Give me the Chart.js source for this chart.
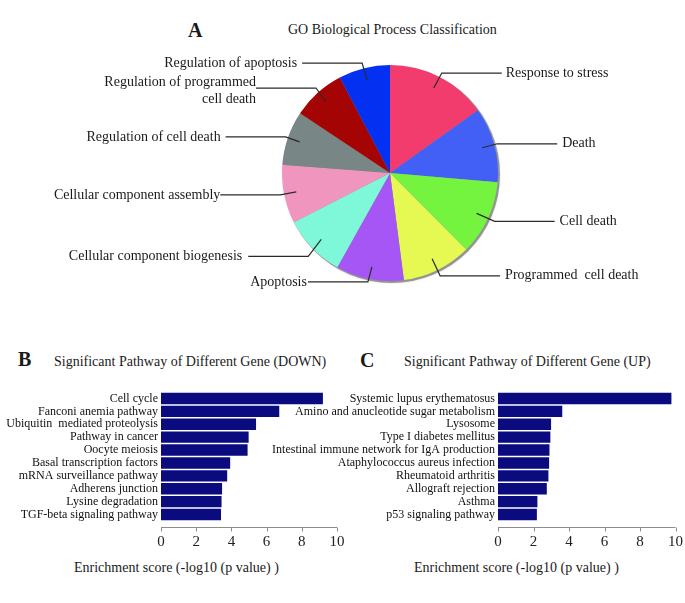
<!DOCTYPE html>
<html><head><meta charset="utf-8">
<script src="https://cdn.jsdelivr.net/npm/chart.js@4.4.0/dist/chart.umd.min.js"></script>
<style>
html,body{margin:0;padding:0;background:#fff;}
body{width:685px;height:603px;position:relative;overflow:hidden;font-family:'Liberation Serif','Times New Roman',serif;color:#1a1a1a;}
.t{position:absolute;white-space:nowrap;line-height:1;}
canvas{position:absolute;}
</style></head><body>
<div class="t" style="left:188px;top:20px;font-size:20px;font-weight:bold;">A</div>
<div class="t" style="left:288px;top:23px;font-size:14px;">GO Biological Process Classification</div>
<div class="t" style="left:18px;top:349px;font-size:20px;font-weight:bold;">B</div>
<div class="t" style="left:54px;top:355px;font-size:14px;">Significant Pathway of Different Gene (DOWN)</div>
<div class="t" style="left:360px;top:350px;font-size:20px;font-weight:bold;">C</div>
<div class="t" style="left:404px;top:355px;font-size:14px;">Significant Pathway of Different Gene (UP)</div>
<div class="t" style="left:74px;top:561px;font-size:14px;">Enrichment score (-log10 (p value) )</div>
<div class="t" style="left:414px;top:561px;font-size:14px;">Enrichment score (-log10 (p value) )</div>
<canvas id="pie" width="685" height="300" style="left:0;top:0;width:685px;height:300px"></canvas>
<canvas id="barB" width="345" height="273" style="left:0;top:330px;width:345px;height:273px"></canvas>
<canvas id="barC" width="435" height="273" style="left:250px;top:330px;width:435px;height:273px"></canvas>
<script>
// ---- data ----
const goCategories = ['Response to stress','Death','Cell death','Programmed  cell death','Apoptosis','Cellular component biogenesis','Cellular component assembly','Regulation of cell death',['Regulation of programmed','cell death'],'Regulation of apoptosis'];
const goShares = [54.5, 40.4, 40.2, 37.5, 36.6, 33.6, 31.6, 29.2, 28.7, 27.7];
const pieColors = ['#F33C6E','#4260F6','#74F43E','#E6F852','#A656F4','#7EF8D8','#F096BE','#788686','#A40404','#0430F2'];

const downPathways = ['Cell cycle','Fanconi anemia pathway','Ubiquitin  mediated proteolysis','Pathway in cancer','Oocyte meiosis','Basal transcription factors','mRNA surveillance pathway','Adherens junction','Lysine degradation','TGF-beta signaling pathway'];
const downScores = [9.2, 6.72, 5.4, 4.98, 4.92, 3.93, 3.76, 3.47, 3.44, 3.41];

const upPathways = ['Systemic lupus erythematosus','Amino and anucleotide sugar metabolism','Lysosome','Type I diabetes mellitus','Intestinal immune network for IgA production','Ataphylococcus aureus infection','Rheumatoid arthritis','Allograft rejection','Asthma','p53 signaling pathway'];
const upScores = [9.77, 3.62, 2.99, 2.95, 2.9, 2.88, 2.84, 2.75, 2.22, 2.19];

const scoreTicks = [0, 2, 4, 6, 8, 10];

// ---- styles ----
Chart.defaults.font.family = "'Liberation Serif','Times New Roman',serif";
Chart.defaults.color = '#1a1a1a';

const pieLabelStyle = {
  elbow: [[8,-15],[15,-4],[18,8],[8,17],[-4,15],[-13,17],[-16,3],[-14,-5],[-10,-14],[-5,-17]],
  gap: [4,5,5,5,1,6,0,5,0,5],
  run: 60,
  inner: 0.885
};

const pieShadow = {
  id: 'pieShadow',
  beforeDatasetsDraw(chart) {
    const arc = chart.getDatasetMeta(0).data[0];
    if (!arc) return;
    const p = arc.getProps(['x','y','outerRadius'], true);
    const ctx = chart.ctx;
    ctx.save();
    ctx.fillStyle = 'rgba(90,90,90,0.55)';
    ctx.shadowColor = 'rgba(0,0,0,0.3)';
    ctx.shadowBlur = 2;
    ctx.beginPath();
    ctx.arc(p.x + 1.5, p.y + 1.5, p.outerRadius + 0.5, 0, Math.PI * 2);
    ctx.fill();
    ctx.restore();
  }
};

const pieLabels = {
  id: 'pieLabels',
  afterDatasetsDraw(chart) {
    const ctx = chart.ctx;
    const meta = chart.getDatasetMeta(0);
    ctx.save();
    ctx.font = '14px "Liberation Serif"';
    ctx.fillStyle = '#1a1a1a';
    ctx.strokeStyle = '#2a2a2a';
    ctx.lineWidth = 1.2;
    meta.data.forEach((arc, i) => {
      const p = arc.getProps(['x','y','startAngle','endAngle','outerRadius'], true);
      const mid = (p.startAngle + p.endAngle) / 2;
      const ix = p.x + Math.cos(mid) * p.outerRadius * pieLabelStyle.inner;
      const iy = p.y + Math.sin(mid) * p.outerRadius * pieLabelStyle.inner;
      const [ex, ey] = pieLabelStyle.elbow[i];
      const bx = ix + ex, by = iy + ey;
      const dir = Math.cos(mid) >= 0 ? 1 : -1;
      const hx = bx + dir * pieLabelStyle.run;
      ctx.beginPath();
      ctx.moveTo(ix, iy); ctx.lineTo(bx, by); ctx.lineTo(hx, by);
      ctx.stroke();
      const lbl = chart.data.labels[i];
      const lines = Array.isArray(lbl) ? lbl : [lbl];
      ctx.textAlign = dir > 0 ? 'left' : 'right';
      ctx.textBaseline = 'middle';
      const tx = hx + dir * pieLabelStyle.gap[i];
      if (lines.length === 1) ctx.fillText(lines[0], tx, by);
      else { ctx.fillText(lines[0], tx, by - 6); ctx.fillText(lines[1], tx, by + 11); }
    });
    ctx.restore();
  }
};

new Chart(document.getElementById('pie'), {
  type: 'pie',
  data: { labels: goCategories, datasets: [{ data: goShares, backgroundColor: pieColors, borderWidth: 0 }] },
  options: {
    responsive: false, animation: false, devicePixelRatio: 1,
    layout: { padding: { left: 282, right: 187, top: 65, bottom: 19 } },
    plugins: { legend: { display: false }, tooltip: { enabled: false } }
  },
  plugins: [pieShadow, pieLabels]
});

const axisLine = {
  id: 'axisLine',
  afterDraw(chart) {
    const xs = chart.scales.x;
    const ctx = chart.ctx;
    const y0 = Math.round(chart.chartArea.bottom + 6) + 0.5;
    ctx.save();
    ctx.strokeStyle = '#8c8c8c';
    ctx.lineWidth = 1;
    ctx.beginPath();
    ctx.moveTo(xs.left, y0); ctx.lineTo(xs.right, y0);
    xs.ticks.forEach(t => {
      const px = Math.round(xs.getPixelForValue(t.value)) + 0.5;
      ctx.moveTo(px, y0); ctx.lineTo(px, y0 + 4);
    });
    ctx.stroke();
    ctx.restore();
  }
};

function makeBar(id, labels, values, yWidth, padRight) {
  return new Chart(document.getElementById(id), {
    type: 'bar',
    data: { labels: labels, datasets: [{ data: values, backgroundColor: '#0b0b80', borderWidth: 0, barPercentage: 0.88, categoryPercentage: 1 }] },
    options: {
      indexAxis: 'y', responsive: false, animation: false, devicePixelRatio: 1,
      layout: { padding: { top: 62, bottom: 0, left: 0, right: padRight } },
      plugins: { legend: { display: false }, tooltip: { enabled: false } },
      scales: {
        y: {
          grid: { display: false, drawTicks: false }, border: { display: false },
          ticks: { font: { size: 12 }, color: '#111', padding: 3, autoSkip: false },
          afterFit(s) { s.width = yWidth; s.paddingTop = 0; s.paddingBottom = 0; }
        },
        x: {
          min: 0, max: 10,
          grid: { display: false, drawTicks: false }, border: { display: false },
          ticks: { font: { size: 15 }, color: '#222', padding: 12 },
          afterBuildTicks(s) { s.ticks = scoreTicks.map(v => ({ value: v })); },
          afterFit(s) { s.height = 82; s.paddingLeft = 0; s.paddingRight = 0; }
        }
      }
    },
    plugins: [axisLine]
  });
}

makeBar('barB', downPathways, downScores, 161, 8);
makeBar('barC', upPathways, upScores, 248, 9.5);
</script>
</body></html>
